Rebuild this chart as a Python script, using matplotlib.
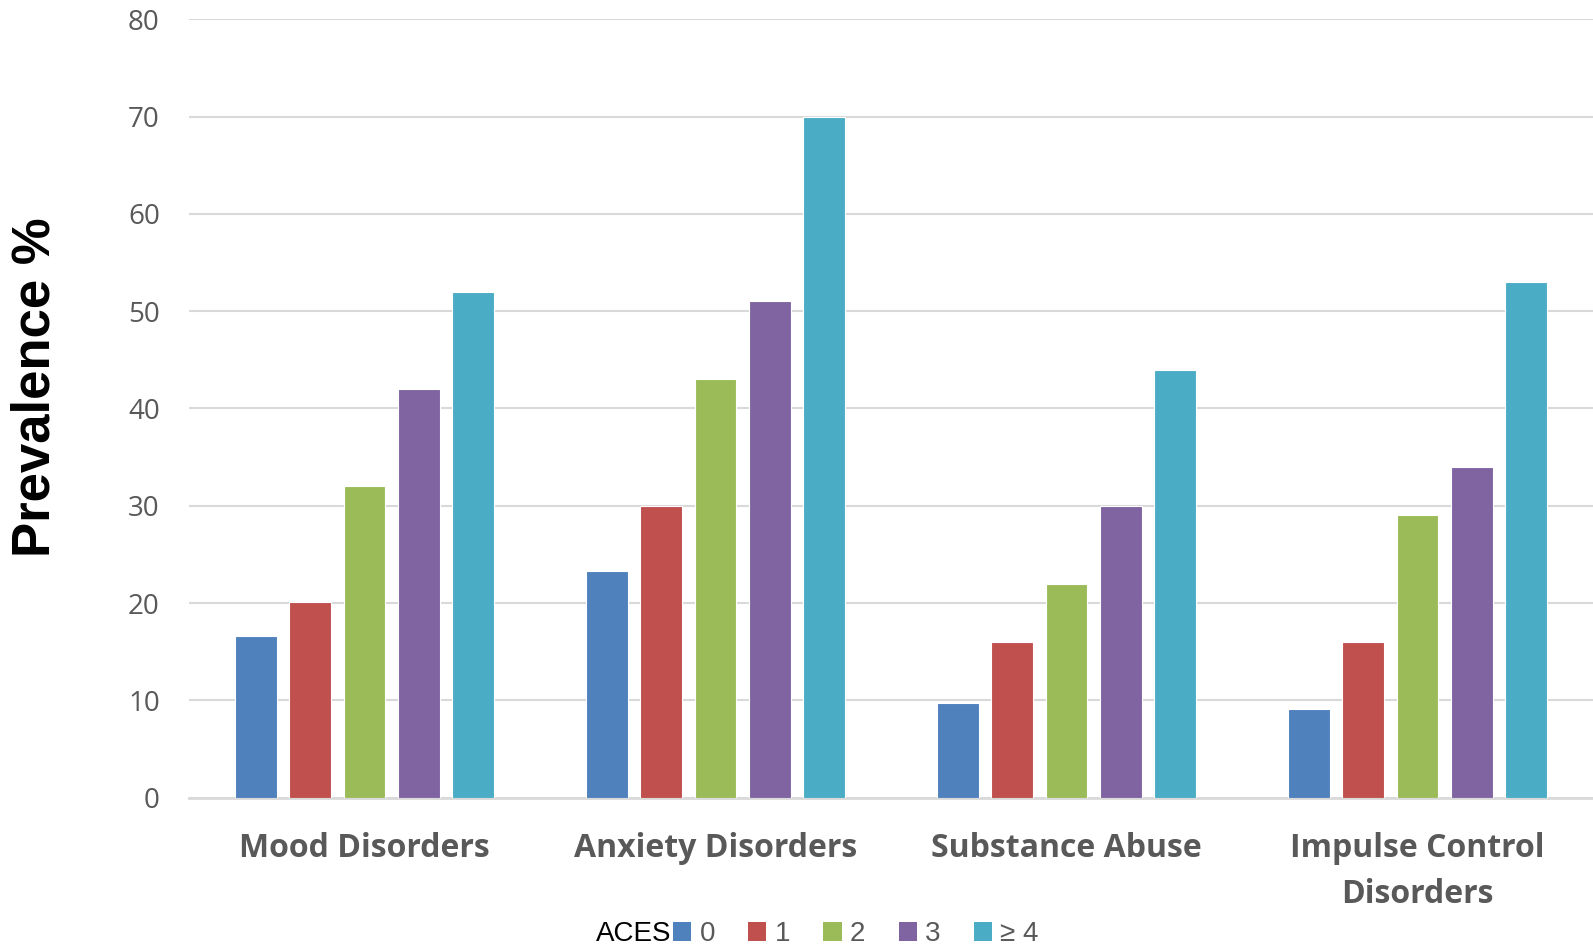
#!/usr/bin/env python3
"""Prevalence of psychiatric disorders by number of ACEs (grouped bars)."""

import matplotlib

matplotlib.use("Agg")
import matplotlib.pyplot as plt
import numpy as np
from matplotlib.patches import Patch

categories = ["Mood Disorders", "Anxiety Disorders", "Substance Abuse",
              "Impulse Control\nDisorders"]
aces_labels = ["0", "1", "2", "3", "≥ 4"]
aces_0 = [16.6, 23.3, 9.7, 9.1]
aces_1 = [20.1, 30.0, 16.0, 16.0]
aces_2 = [32.0, 43.0, 22.0, 29.0]
aces_3 = [42.0, 51.0, 30.0, 34.0]
aces_4 = [52.0, 70.0, 44.0, 53.0]
series = [aces_0, aces_1, aces_2, aces_3, aces_4]

COLORS = ["#4F81BD", "#C0504D", "#9BBB59", "#8064A2", "#4BACC6"]
GRID = "#D9D9D9"
TEXT_GREY = "#595959"

W, H = 1593, 946
fig = plt.figure(figsize=(W / 100, H / 100), dpi=100)
ax = fig.add_axes([189 / W, 1 - 797.6 / H, 1 - 189 / W, (797.6 - 19.3) / H])

x = np.arange(len(categories))
step = 0.1545
width = 0.119
for i, (vals, col) in enumerate(zip(series, COLORS)):
    ax.bar(x + (i - 2) * step, vals, width=width, color=col,
           edgecolor="white", linewidth=0.8, zorder=3)

ax.set_xlim(-0.5, len(categories) - 0.5)
ax.set_ylim(0, 80)
ax.set_yticks(np.arange(0, 81, 10))
ax.yaxis.grid(True, color=GRID, lw=1.5, zorder=0)
ax.set_axisbelow(True)
for side in ["top", "right", "left"]:
    ax.spines[side].set_visible(False)
ax.spines["bottom"].set_color(GRID)
ax.spines["bottom"].set_linewidth(2)
ax.tick_params(axis="both", length=0)
ax.tick_params(axis="y", pad=21, labelsize=20, labelcolor=TEXT_GREY)
ax.tick_params(axis="x", pad=25)
for lab in ax.get_yticklabels():
    lab.set_family("Open Sans")

ax.set_xticks(x)
ax.set_xticklabels(categories, family="Open Sans", fontweight="bold",
                   fontsize=23, color=TEXT_GREY, linespacing=1.5)

fig.text(36 / W, 1 - 387 / H, "Prevalence %", rotation=90, ha="center",
         va="center", family="Liberation Sans", fontweight="bold",
         fontsize=38, color="black")

legend_y = 1 - 934 / H
handles = [Patch(facecolor=c, edgecolor="none") for c in COLORS]
leg = fig.legend(handles, aces_labels, ncol=5, loc="center left",
                 bbox_to_anchor=(673 / W, legend_y), frameon=False,
                 borderpad=0, borderaxespad=0, handlelength=0.65,
                 handleheight=0.65, handletextpad=0.3, columnspacing=1.2,
                 prop={"family": "Liberation Sans", "size": 20})
for t in leg.get_texts():
    t.set_color(TEXT_GREY)
fig.text(671 / W, legend_y, "ACES", ha="right", va="center",
         family="Liberation Sans", fontsize=20, color="black")

fig.savefig("out.png", dpi=100)
